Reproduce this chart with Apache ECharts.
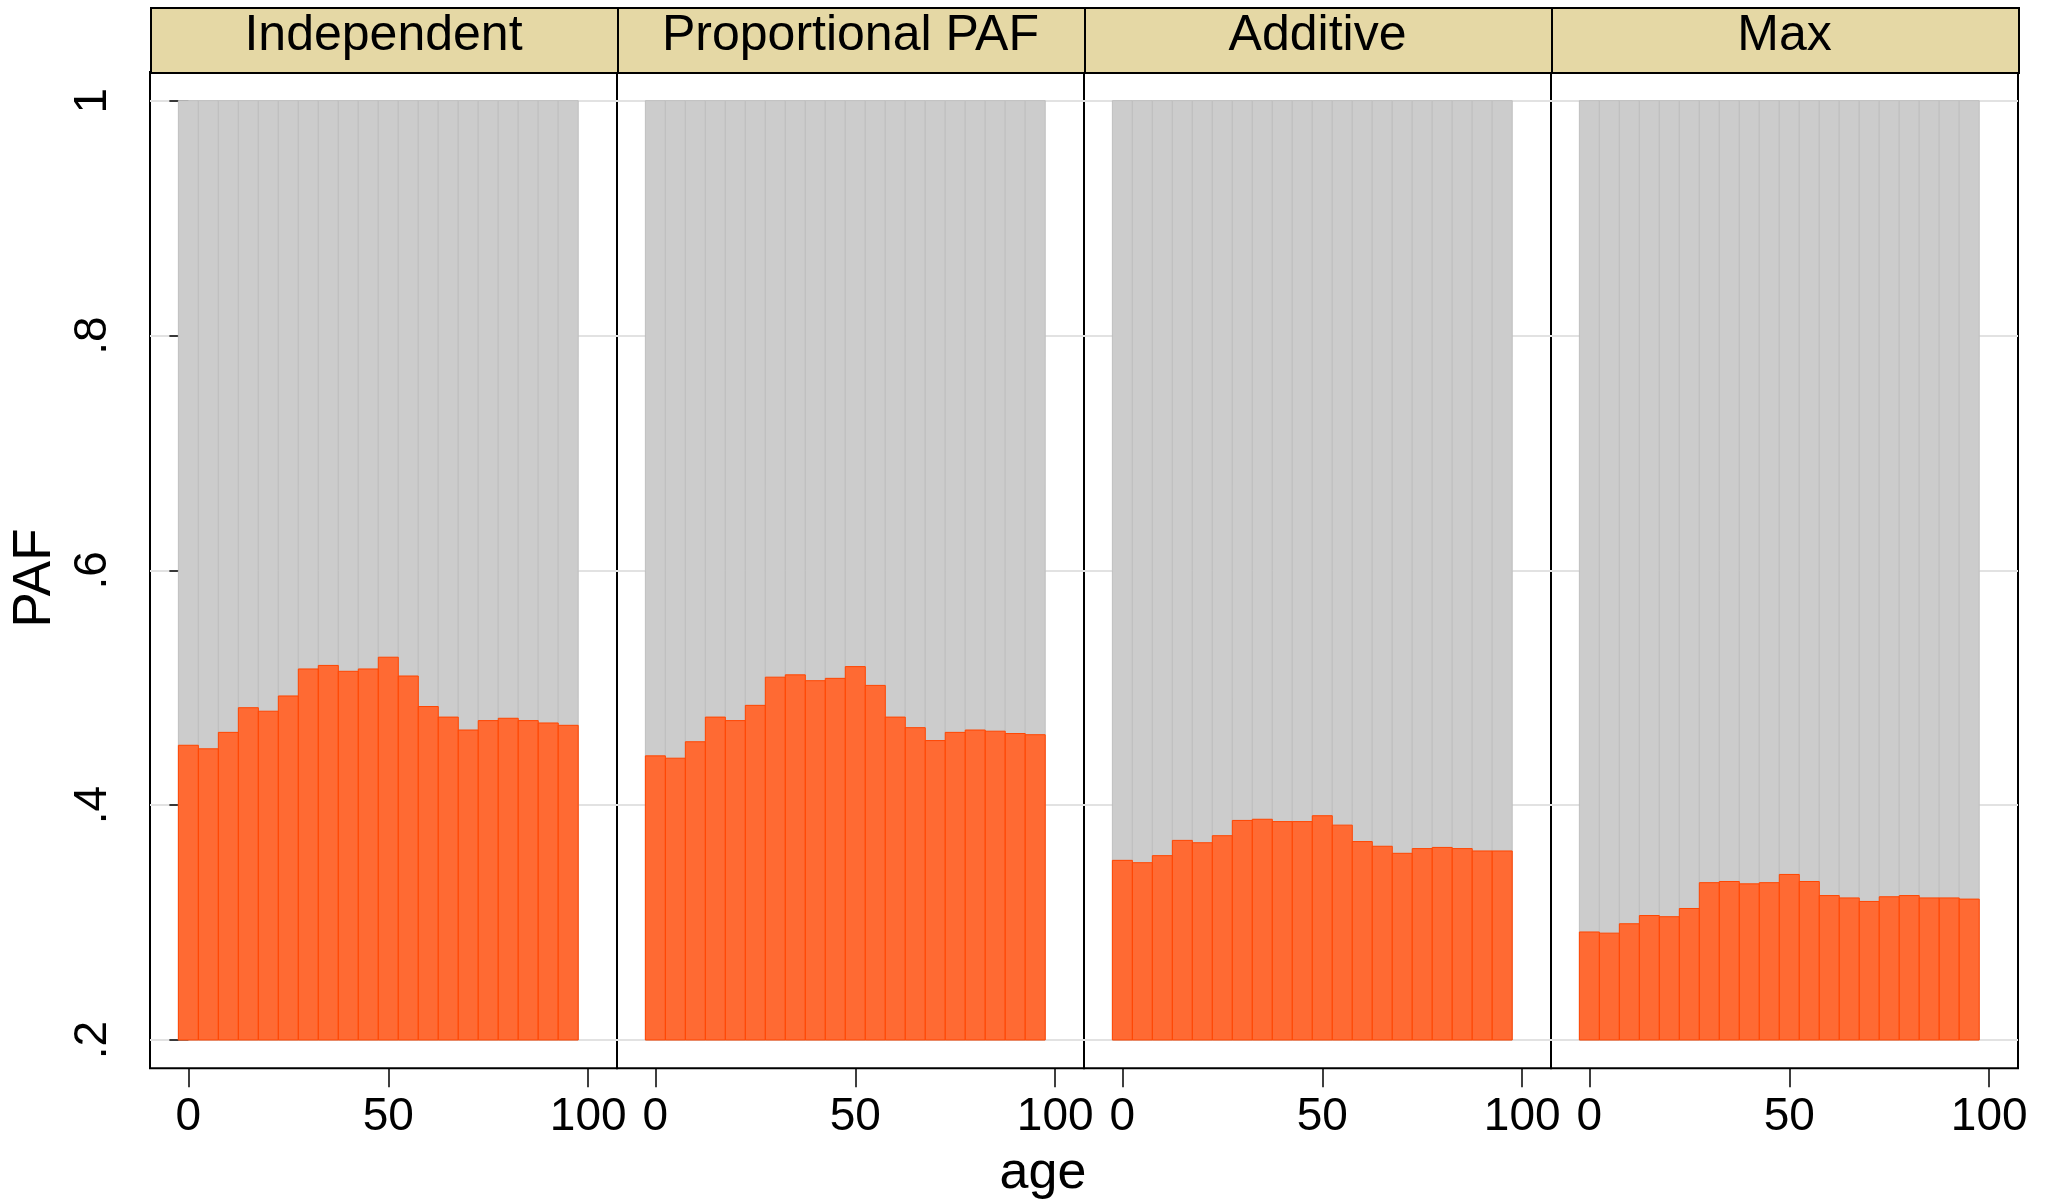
<!DOCTYPE html>
<html>
<head>
<meta charset="utf-8">
<script src="https://cdn.jsdelivr.net/npm/echarts@6/dist/echarts.min.js"></script>
<style>
  html, body { margin: 0; padding: 0; background: #fff; }
  #chart { width: 2045px; height: 1199px; }
</style>
</head>
<body>
<div id="chart"></div>
<script>
// panels and data
const panelNames = ['Independent', 'Proportional PAF', 'Additive', 'Max'];
const ages = [0, 5, 10, 15, 20, 25, 30, 35, 40, 45, 50, 55, 60, 65, 70, 75, 80, 85, 90, 95];
const independent = [0.451, 0.448, 0.462, 0.483, 0.480, 0.493, 0.516, 0.519, 0.514, 0.516,
                     0.526, 0.510, 0.484, 0.475, 0.464, 0.472, 0.474, 0.472, 0.470, 0.468];
const proportional = [0.442, 0.440, 0.454, 0.475, 0.472, 0.485, 0.509, 0.511, 0.506, 0.508,
                      0.518, 0.502, 0.475, 0.466, 0.455, 0.462, 0.464, 0.463, 0.461, 0.460];
const additive = [0.353, 0.351, 0.357, 0.370, 0.368, 0.374, 0.387, 0.388, 0.386, 0.386,
                  0.391, 0.383, 0.369, 0.365, 0.359, 0.363, 0.364, 0.363, 0.361, 0.361];
const maxPaf = [0.292, 0.291, 0.299, 0.306, 0.305, 0.312, 0.334, 0.335, 0.333, 0.334,
                0.341, 0.335, 0.323, 0.321, 0.318, 0.322, 0.323, 0.321, 0.321, 0.320];
const panelValues = [independent, proportional, additive, maxPaf];
const yTicks = [0.2, 0.4, 0.6, 0.8, 1];
const xTicks = [0, 50, 100];
const barBase = 0.2;
const barTop = 1;
const binWidth = 5;

// layout (px)
const plotLeft = 150, panelW = 467, plotTop = 72, plotBottom = 1068.3;
const stripTop = 7;

let chart = echarts.init(document.getElementById('chart'));

const makeRender = (fill, stroke) => (params, api) => {
    let x = api.value(0), v = api.value(1);
    let p0 = api.coord([x - binWidth / 2, barBase]);
    let p1 = api.coord([x + binWidth / 2, v]);
    return {
        type: 'rect',
        shape: {x: p0[0], y: p1[1], width: p1[0] - p0[0], height: p0[1] - p1[1]},
        style: {fill: fill, stroke: stroke, lineWidth: 1}
    };
};

let grids = [], xAxes = [], yAxes = [], series = [], graphics = [];
panelNames.forEach((name, i) => {
    let left = plotLeft + i * panelW;
    grids.push({
        left: left, top: plotTop, width: panelW, height: plotBottom - plotTop,
        show: true, borderColor: '#000', borderWidth: 2, backgroundColor: '#fff'
    });
    xAxes.push({
        type: 'value', gridIndex: i, min: -9.6, max: 107.2,
        axisLine: {show: false},
        axisTick: {show: true, length: 19, lineStyle: {color: '#000', width: 1.5}, customValues: xTicks},
        axisLabel: {show: true, customValues: xTicks, margin: 26, fontSize: 46,
                    fontFamily: 'Liberation Sans', color: '#000'},
        splitLine: {show: false}
    });
    yAxes.push({
        type: 'value', gridIndex: i, min: 0.1759, max: 1.0244,
        axisLine: {show: false},
        axisTick: {show: i === 0, length: 19, lineStyle: {color: '#000', width: 1.5}, customValues: yTicks},
        axisLabel: {show: i === 0, customValues: yTicks, rotate: 90, margin: 34, fontSize: 46,
                    fontFamily: 'Liberation Sans', color: '#000',
                    formatter: v => String(v).replace(/^0/, '')},
        splitLine: {show: true, lineStyle: {color: '#e2e2e2', width: 2}}
    });
    series.push({
        type: 'custom', xAxisIndex: i, yAxisIndex: i, silent: true,
        encode: {x: 0, y: 1},
        data: ages.map(a => [a, barTop]),
        renderItem: makeRender('#cccccc', '#bfbfbf')
    });
    series.push({
        type: 'custom', xAxisIndex: i, yAxisIndex: i, silent: true,
        encode: {x: 0, y: 1},
        data: ages.map((a, k) => [a, panelValues[i][k]]),
        renderItem: makeRender('#ff6a33', '#ff4500')
    });
    // strip header
    graphics.push({
        type: 'rect', left: left, top: stripTop, silent: true,
        shape: {width: panelW, height: plotTop - stripTop},
        style: {fill: '#e5d8a5', stroke: '#000', lineWidth: 2}
    });
    graphics.push({
        type: 'text', x: left + panelW / 2, y: 36, silent: true,
        style: {text: name, font: '50px "Liberation Sans"', fill: '#000',
                align: 'center', verticalAlign: 'middle',
                textAlign: 'center', textVerticalAlign: 'middle'}
    });
});

graphics.push({
    type: 'text', x: 1043, y: 1174, silent: true,
    style: {text: 'age', font: '52px "Liberation Sans"', fill: '#000',
            align: 'center', verticalAlign: 'middle', textAlign: 'center', textVerticalAlign: 'middle'}
});
graphics.push({
    type: 'text', x: 35, y: 578, rotation: Math.PI / 2, silent: true,
    style: {text: 'PAF', font: '53px "Liberation Sans"', fill: '#000',
            align: 'center', verticalAlign: 'middle', textAlign: 'center', textVerticalAlign: 'middle'}
});

chart.setOption({
    animation: false,
    backgroundColor: '#fff',
    grid: grids,
    xAxis: xAxes,
    yAxis: yAxes,
    series: series,
    graphic: graphics
});
</script>
</body>
</html>
